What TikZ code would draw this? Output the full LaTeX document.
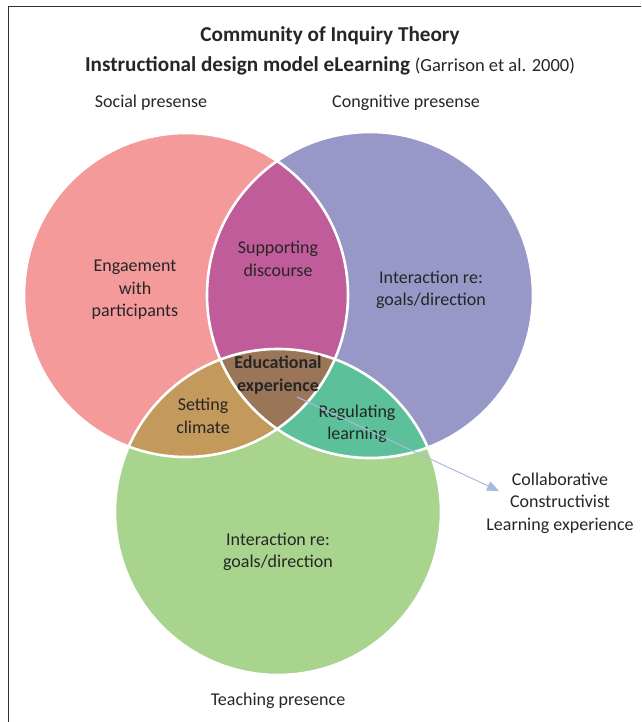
\documentclass[tikz,border=0pt]{standalone}
\usepackage{fontspec}
\setmainfont{Carlito}
\usetikzlibrary{arrows.meta}
\usepackage{xcolor}
\definecolor{socialpink}{RGB}{244, 154, 154}
\definecolor{cognitivepurple}{RGB}{152, 152, 200}
\definecolor{teachinggreen}{RGB}{169, 212, 142}
\definecolor{discoursemagenta}{RGB}{192, 92, 154}
\definecolor{climatetan}{RGB}{196, 154, 92}
\definecolor{regulatingteal}{RGB}{92, 192, 154}
\definecolor{experiencebrown}{RGB}{154, 117, 88}
\definecolor{textdark}{RGB}{38, 38, 38}
\definecolor{arrowblue}{RGB}{170, 186, 222}
\definecolor{framegray}{RGB}{50, 50, 50}

\newcommand{\socialcircle}{(186,295) circle (162)}
\newcommand{\cognitivecircle}{(370,295) circle (163)}
\newcommand{\teachingcircle}{(278,512) circle (163)}

\begin{document}
\begin{tikzpicture}[
    x=1pt, y=-1pt,
    label/.style={align=center, text=textdark, font=\fontsize{18}{22.5}\selectfont, inner sep=0pt},
    heading/.style={label, font=\fontsize{21.2}{25}\selectfont\bfseries},
    venn edge/.style={draw=white, line width=2.6pt},
    arrow/.style={-{Triangle[length=12pt, width=10pt]}, line width=1pt, color=arrowblue}
]
\useasboundingbox (0,0) rectangle (641,722);

% Frame
\draw[framegray, line width=1pt] (8,722) -- (8,7) -- (641,7);

% Circles
\fill[socialpink] \socialcircle;
\fill[cognitivepurple] \cognitivecircle;
\fill[teachinggreen] \teachingcircle;

% Overlaps
\begin{scope}
  \clip \socialcircle;
  \fill[discoursemagenta] \cognitivecircle;
  \fill[climatetan] \teachingcircle;
\end{scope}
\begin{scope}
  \clip \cognitivecircle;
  \fill[regulatingteal] \teachingcircle;
\end{scope}
\begin{scope}
  \clip \socialcircle;
  \clip \cognitivecircle;
  \fill[experiencebrown] \teachingcircle;
\end{scope}

\path[venn edge] \socialcircle;
\path[venn edge] \cognitivecircle;
\path[venn edge] \teachingcircle;

% Titles
\node[heading] (title) at (330,36) {Community of Inquiry Theory};
\node[heading] (subtitle) at (330,66) {Instructional design model eLearning {\mdseries\fontsize{18.5}{22}\selectfont(Garrison et al. 2000)}};

% Presences
\node[label] (social) at (151,103) {Social presense};
\node[label] (cognitive) at (406,103) {Congnitive presense};
\node[label] (teaching) at (278,701) {Teaching presence};

% Region labels
\node[label] (engage) at (135,290) {Engaement\\with\\participants};
\node[label] (discourse) at (278,259) {Supporting\\discourse};
\node[label] (cogtext) at (431,290) {Interaction re:\\goals/direction};
\node[label, font=\fontsize{18}{22.5}\selectfont\bfseries] (experience) at (278,375) {Educational\\experience};
\node[label] (climate) at (203,416) {Setting\\climate};
\node[label] (regulate) at (357,424) {Regulating\\learning};
\node[label] (teachtext) at (278,552) {Interaction re:\\goals/direction};

% Collaborative experience
\node[label] (collab) at (560,503) {Collaborative\\Constructivist\\Learning experience};
\coordinate (arrowstart) at (297,397);
\coordinate (arrowend) at (499,491);
\draw[arrow] (arrowstart) -- (arrowend);

\end{tikzpicture}
\end{document}
